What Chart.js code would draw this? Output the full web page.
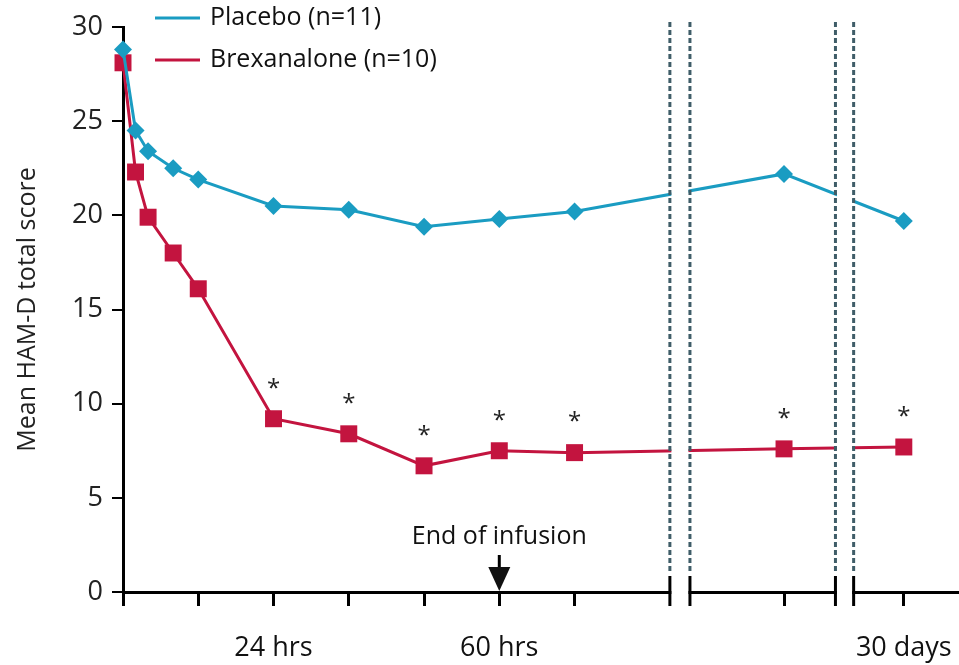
<!DOCTYPE html>
<html>
<head>
<meta charset="utf-8">
<script src="https://cdn.jsdelivr.net/npm/chart.js@4.4.1/dist/chart.umd.min.js"></script>
<style>
  html, body { margin: 0; padding: 0; background: #fff; overflow: hidden; }
  canvas { display: block; }
</style>
</head>
<body>
<canvas id="hamd" width="959" height="665"></canvas>
<script>
// ── data (time since start of infusion, hours)
const hours          = [0, 2, 4, 8, 12, 24, 36, 48, 60, 72, 168, 720];
const placeboScores  = [28.8, 24.5, 23.4, 22.5, 21.9, 20.5, 20.3, 19.4, 19.8, 20.2, 22.2, 19.7];
const brexScores     = [28.1, 22.3, 19.9, 18.0, 16.1, 9.2, 8.4, 6.7, 7.5, 7.4, 7.6, 7.7];
const significant    = [0, 0, 0, 0, 0, 1, 1, 1, 1, 1, 1, 1];
const tickHours      = [0, 12, 24, 36, 48, 60, 72, 168, 720];
const tickText       = { 24: '24 hrs', 60: '60 hrs', 720: '30 days' };
const yTicks         = [0, 5, 10, 15, 20, 25, 30];

// ── broken x axis: linear in hours up to the first break, then one slot per late visit
const LATE_SLOTS = { 168: 105.4, 720: 124.5 };
const BREAKS     = [[87.2, 90.4], [113.6, 116.5]];
const axisPos    = h => (h in LATE_SLOTS ? LATE_SLOTS[h] : h);

const BLUE  = '#1a9cc2';
const RED   = '#c3143f';
const FONT  = "'Open Sans', 'DejaVu Sans', sans-serif";

const points = arr => hours.map((h, i) => ({ x: axisPos(h), y: arr[i] }));

const decorations = {
  id: 'decorations',
  afterDatasetsDraw(chart) {
    const { ctx, scales: { x, y } } = chart;
    const base = y.getPixelForValue(0);
    ctx.save();

    // asterisks over significant brexanalone points
    ctx.fillStyle = '#222';
    ctx.font = '24px ' + FONT;
    ctx.textAlign = 'center';
    ctx.textBaseline = 'middle';
    hours.forEach((h, i) => {
      if (!significant[i]) return;
      ctx.fillText('*', x.getPixelForValue(axisPos(h)), y.getPixelForValue(brexScores[i]) - 30);
    });

    // axis breaks
    BREAKS.forEach(([a, b]) => {
      const xa = x.getPixelForValue(a), xb = x.getPixelForValue(b);
      ctx.fillStyle = '#fff';
      ctx.fillRect(xa + 1.5, 0, xb - xa - 3, base + 20);
      ctx.strokeStyle = '#3f5d68';
      ctx.lineWidth = 3;
      ctx.setLineDash([5, 3]);
      [xa, xb].forEach(px => {
        ctx.beginPath();
        ctx.moveTo(px, 22);
        ctx.lineTo(px, base - 18);
        ctx.stroke();
      });
      ctx.setLineDash([]);
      ctx.strokeStyle = '#000';
      [xa, xb].forEach(px => {
        ctx.beginPath();
        ctx.moveTo(px, base - 16);
        ctx.lineTo(px, base + 14);
        ctx.stroke();
      });
    });

    // end of infusion marker
    const ax = x.getPixelForValue(60);
    ctx.fillStyle = '#111';
    ctx.font = '25px ' + FONT;
    ctx.fillText('End of infusion', ax, base - 55);
    ctx.strokeStyle = '#000';
    ctx.lineWidth = 3;
    ctx.beginPath();
    ctx.moveTo(ax, base - 37);
    ctx.lineTo(ax, base - 20);
    ctx.stroke();
    ctx.beginPath();
    ctx.moveTo(ax - 11, base - 25);
    ctx.lineTo(ax + 11, base - 25);
    ctx.lineTo(ax, base - 1);
    ctx.closePath();
    ctx.fill();

    // legend
    const legend = [['Placebo (n=11)', BLUE, 18], ['Brexanalone (n=10)', RED, 60]];
    ctx.textAlign = 'left';
    ctx.font = '25px ' + FONT;
    legend.forEach(([label, color, ly]) => {
      ctx.strokeStyle = color;
      ctx.lineWidth = 3;
      ctx.beginPath();
      ctx.moveTo(155, ly);
      ctx.lineTo(200, ly);
      ctx.stroke();
      ctx.fillStyle = '#111';
      ctx.fillText(label, 210, ly);
    });

    ctx.restore();
  }
};

new Chart(document.getElementById('hamd'), {
  type: 'line',
  data: {
    datasets: [
      {
        label          : 'Placebo (n=11)',
        data           : points(placeboScores),
        borderColor    : BLUE,
        backgroundColor: BLUE,
        borderWidth    : 3,
        pointStyle     : 'rectRot',
        pointRadius    : 9,
        pointBorderWidth: 0
      },
      {
        label          : 'Brexanalone (n=10)',
        data           : points(brexScores),
        borderColor    : RED,
        backgroundColor: RED,
        borderWidth    : 3,
        pointStyle     : 'rect',
        pointRadius    : 12,
        pointBorderWidth: 0
      }
    ]
  },
  options: {
    responsive: false,
    animation: false,
    clip: false,
    layout: { autoPadding: false, padding: { top: 27, right: 0, left: 0, bottom: 0 } },
    plugins: {
      legend : { display: false },
      tooltip: { enabled: false }
    },
    scales: {
      x: {
        type: 'linear',
        min: 0,
        max: 133.3,
        afterFit: s => { s.height = 73; s.paddingRight = 0; s.paddingLeft = 0; },
        afterBuildTicks: s => { s.ticks = tickHours.map(h => ({ value: axisPos(h) })); },
        border: { color: '#000', width: 3 },
        grid: { drawOnChartArea: false, drawTicks: true, tickLength: 14, color: '#000', lineWidth: 3 },
        ticks: {
          autoSkip: false,
          maxRotation: 0,
          padding: 26,
          color: '#111',
          font: { family: FONT, size: 27 },
          callback: (v, i) => tickText[tickHours[i]] || ''
        }
      },
      y: {
        min: 0,
        max: 30,
        afterFit: s => { s.width = 123; },
        afterBuildTicks: s => { s.ticks = yTicks.map(v => ({ value: v })); },
        border: { color: '#000', width: 3 },
        grid: { drawOnChartArea: false, drawTicks: true, tickLength: 11, color: '#000', lineWidth: 2 },
        ticks: {
          padding: 9,
          color: '#222',
          font: { family: FONT, size: 27 }
        },
        title: {
          display: true,
          text: 'Mean HAM-D total score',
          color: '#222',
          font: { family: FONT, size: 25 },
          padding: { top: 13, bottom: 0 }
        }
      }
    }
  },
  plugins: [decorations]
});
</script>
</body>
</html>
